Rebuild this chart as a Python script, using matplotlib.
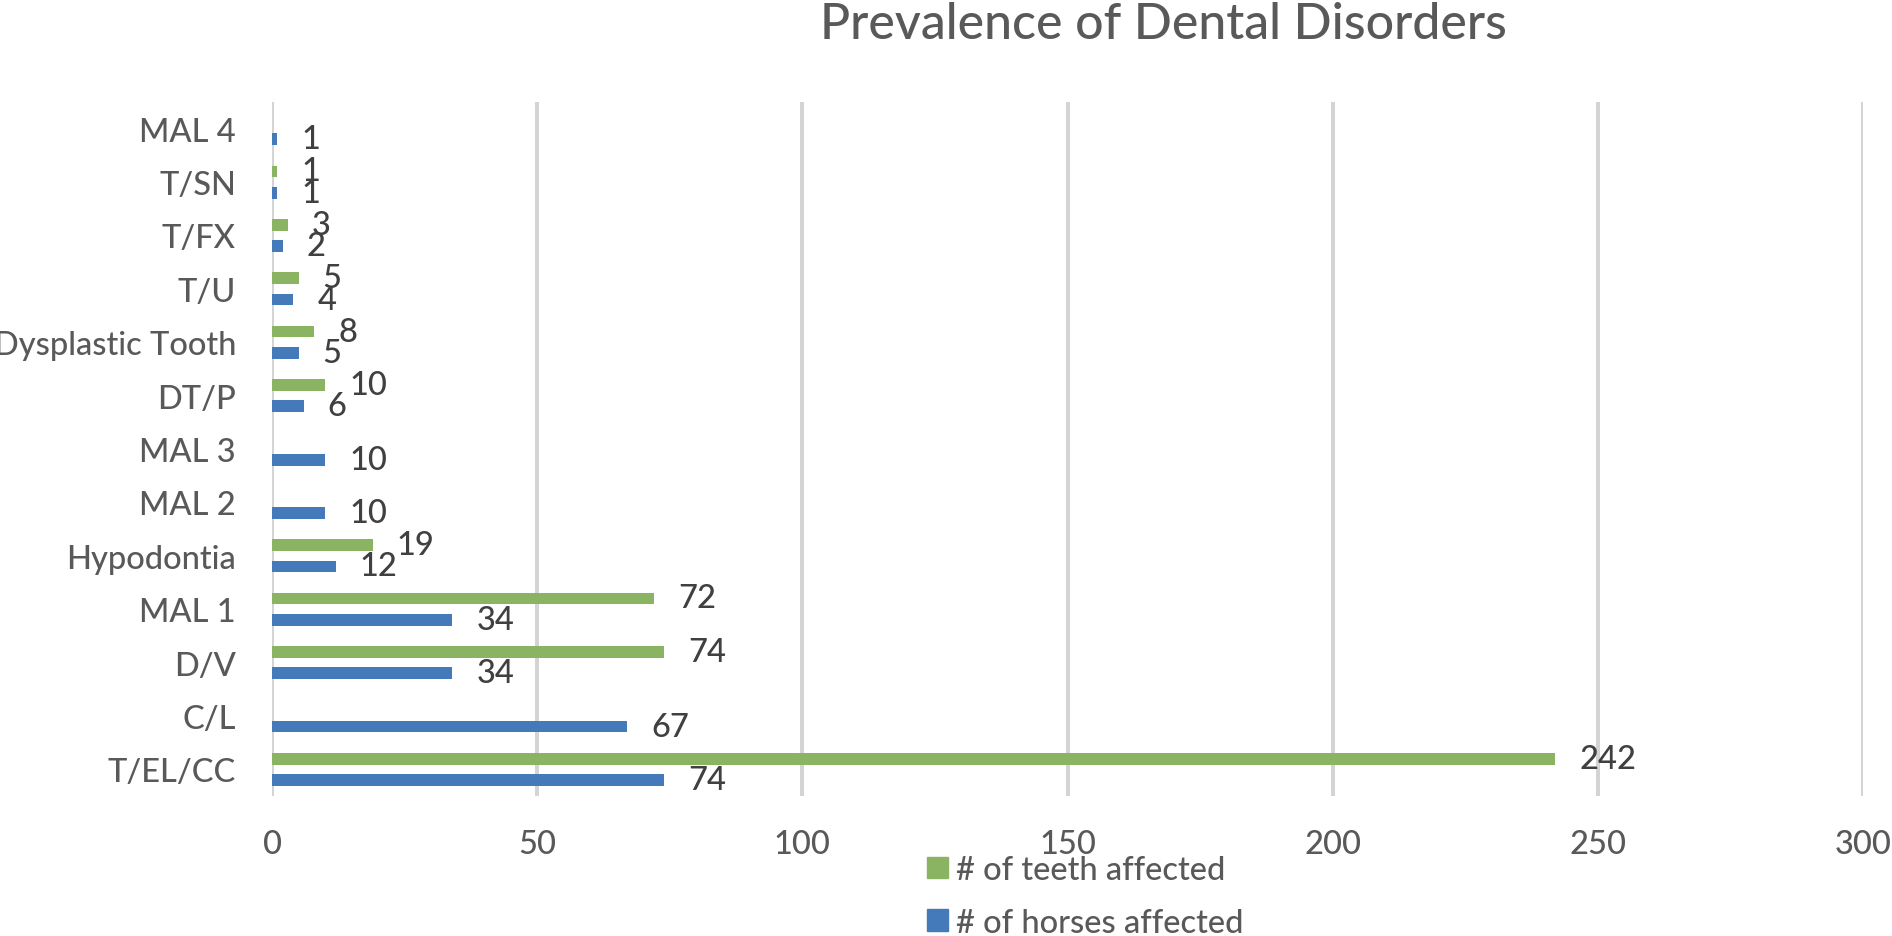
import numpy as np
import matplotlib
matplotlib.use("Agg")
import matplotlib.pyplot as plt
from matplotlib.patches import Patch

plt.rcParams['font.family'] = ['Lato', 'DejaVu Sans']
plt.rcParams['font.weight'] = 'medium'

# categories listed bottom -> top
categories = ['T/EL/CC', 'C/L', 'D/V', 'MAL 1', 'Hypodontia', 'MAL 2', 'MAL 3',
              'DT/P', 'Dysplastic Tooth', 'T/U', 'T/FX', 'T/SN', 'MAL 4']
teeth_affected = [242, None, 74, 72, 19, None, None, 10, 8, 5, 3, 1, None]
horses_affected = [74, 67, 34, 34, 12, 10, 10, 6, 5, 4, 2, 1, 1]
xticks = [0, 50, 100, 150, 200, 250, 300]

green = '#8AB462'
blue = '#447AB9'
text_col = '#595959'
label_col = '#404040'

W, H = 1892, 937
fig = plt.figure(figsize=(W / 100, H / 100), dpi=100)
ax = fig.add_axes([272 / W, 1 - 797 / H, (1863 - 272) / W, (797 - 103) / H])

y = np.arange(len(categories))
bh = 0.22
off = 0.2

teeth = np.array([np.nan if v is None else v for v in teeth_affected], dtype=float)
horses = np.array(horses_affected, dtype=float)

ax.barh(y + off, np.nan_to_num(teeth), height=bh, color=green, zorder=3)
ax.barh(y - off, horses, height=bh, color=blue, zorder=3)

# data labels
for yi, v in zip(y, teeth):
    if not np.isnan(v):
        ax.annotate(f'{int(v)}', (v, yi + off), xytext=(24, 0), textcoords='offset pixels',
                    ha='left', va='center', fontsize=23.5, color=label_col)
for yi, v in zip(y, horses):
    ax.annotate(f'{int(v)}', (v, yi - off), xytext=(24, 0), textcoords='offset pixels',
                ha='left', va='center', fontsize=23.5, color=label_col)

ax.set_xlim(0, 300)
ax.set_ylim(-0.5, len(categories) - 0.5)
ax.set_xticks(xticks)
ax.set_yticks(y)
ax.set_yticklabels(categories)
ax.tick_params(axis='both', length=0, labelsize=23.5, colors=text_col)
ax.tick_params(axis='x', pad=24)
ax.tick_params(axis='y', pad=26)
ax.grid(axis='x', color='#D4D4D4', linewidth=2.9, zorder=0)
for s in ax.spines.values():
    s.set_visible(False)

fig.text(1163 / W, 1 - 25 / H, 'Prevalence of Dental Disorders', ha='center', va='center',
         fontsize=36, color=text_col)

handles = [Patch(color=green, label='# of teeth affected'),
           Patch(color=blue, label='# of horses affected')]
fig.legend(handles=handles, loc='upper left', bbox_to_anchor=(927 / W, 1 - 856 / H),
           frameon=False, fontsize=23.5, labelcolor=text_col, handlelength=0.65,
           handleheight=0.65, handletextpad=0.25, labelspacing=0.7,
           borderpad=0, borderaxespad=0)

fig.savefig('out.png', dpi=100)
